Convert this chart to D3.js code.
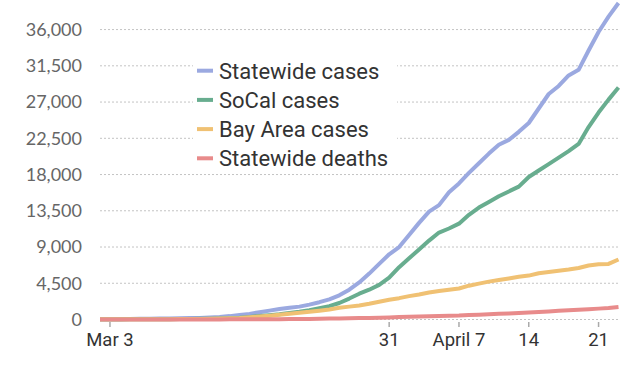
<!DOCTYPE html>
<meta charset="utf-8">
<script src="https://d3js.org/d3.v7.min.js"></script>
<style>
  body { margin: 0; background: #fff; }
</style>
<div id="chart"></div>
<script>
  // daily values, Mar 2 .. Apr 23 2020 (one per day)
  const startDay = new Date(2020, 2, 2);
  const statewide = [50, 55, 60, 70, 80, 100, 115, 135, 160, 180, 200, 250, 320, 420, 550, 700, 900, 1100, 1300, 1450,
    1600, 1850, 2150, 2500, 3000, 3700, 4600, 5700, 6900, 8100, 9000, 10500, 12000, 13400, 14200, 15800, 16900, 18200,
    19400, 20600, 21700, 22300, 23300, 24400, 26200, 28000, 29000, 30300, 31000, 33400, 35700, 37600, 39300];
  const socal = [10, 12, 14, 18, 22, 28, 34, 42, 52, 64, 80, 100, 130, 170, 230, 320, 430, 540, 650, 800,
    950, 1150, 1400, 1650, 2050, 2600, 3200, 3700, 4300, 5200, 6500, 7600, 8700, 9800, 10800, 11300, 11900, 13000,
    13900, 14600, 15300, 15900, 16500, 17700, 18500, 19300, 20100, 20900, 21800, 23900, 25700, 27300, 28800];
  const bayArea = [20, 22, 25, 28, 32, 36, 40, 45, 52, 60, 70, 85, 110, 150, 200, 280, 370, 470, 600, 720,
    830, 950, 1100, 1250, 1450, 1600, 1750, 1950, 2200, 2450, 2650, 2900, 3100, 3350, 3550, 3700, 3850, 4200,
    4450, 4700, 4900, 5100, 5300, 5450, 5750, 5900, 6050, 6200, 6400, 6700, 6850, 6900, 7450];
  const deaths = [1, 2, 3, 4, 4, 5, 5, 5, 6, 6, 7, 11, 13, 16, 19, 22, 27, 32, 40, 50,
    60, 70, 90, 110, 130, 160, 180, 190, 220, 260, 310, 340, 380, 400, 430, 460, 490, 560,
    600, 650, 700, 750, 800, 870, 930, 1000, 1080, 1150, 1220, 1280, 1350, 1420, 1560];

  const seriesNames = ["Statewide cases", "SoCal cases", "Bay Area cases", "Statewide deaths"];
  const seriesColors = ["#9ba9e0", "#68ad8f", "#f0c173", "#e88b8b"];
  const yTicks = [0, 4500, 9000, 13500, 18000, 22500, 27000, 31500, 36000];
  const xTickDates = [new Date(2020, 2, 3), new Date(2020, 2, 31), new Date(2020, 3, 7), new Date(2020, 3, 14), new Date(2020, 3, 21)];
  const xTickLabels = ["Mar 3", "31", "April 7", "14", "21"];

  const width = 640, height = 384;
  const dates = statewide.map((d, i) => d3.timeDay.offset(startDay, i));
  const series = [statewide, socal, bayArea, deaths];

  const svg = d3.select("#chart").append("svg")
    .attr("width", width)
    .attr("height", height);

  const x = d3.scaleTime()
    .domain([dates[0], dates[dates.length - 1]])
    .range([100, 618.5]);

  const y = d3.scaleLinear()
    .domain([0, d3.max(statewide)])
    .range([319.5, 3]);

  // dotted gridlines
  svg.append("g")
    .selectAll("line")
    .data(yTicks)
    .join("line")
    .attr("x1", 100)
    .attr("x2", 618)
    .attr("y1", d => y(d))
    .attr("y2", d => y(d))
    .attr("stroke", "#c4c4c4")
    .attr("stroke-width", 1)
    .attr("stroke-dasharray", "2,2");

  svg.append("g")
    .selectAll("text")
    .data(yTicks)
    .join("text")
    .attr("x", 82)
    .attr("y", d => y(d))
    .attr("dy", "0.35em")
    .attr("text-anchor", "end")
    .style("font-family", "Lato, sans-serif")
    .style("font-size", "18px")
    .attr("fill", "#666")
    .text(d => d3.format(",")(d));

  // x ticks
  const xg = svg.append("g");
  xg.selectAll("line")
    .data(xTickDates)
    .join("line")
    .attr("x1", d => x(d))
    .attr("x2", d => x(d))
    .attr("y1", 322)
    .attr("y2", 327)
    .attr("stroke", "#aaa")
    .attr("stroke-width", 1.5);
  xg.selectAll("text")
    .data(xTickDates)
    .join("text")
    .attr("x", d => x(d))
    .attr("y", 346)
    .attr("text-anchor", "middle")
    .style("font-family", "Roboto, sans-serif")
    .style("font-size", "18.5px")
    .attr("fill", "#333")
    .text((d, i) => xTickLabels[i]);

  // legend box hides the gridlines behind it
  svg.append("rect")
    .attr("x", 193)
    .attr("y", 52)
    .attr("width", 204)
    .attr("height", 118)
    .attr("fill", "#fff");

  const line = d3.line()
    .x((d, i) => x(dates[i]))
    .y(d => y(d));

  svg.append("g")
    .selectAll("path")
    .data(series)
    .join("path")
    .attr("d", line)
    .attr("fill", "none")
    .attr("stroke", (d, i) => seriesColors[i])
    .attr("stroke-width", 4)
    .attr("stroke-linejoin", "round");

  const legend = svg.append("g")
    .selectAll("g")
    .data(seriesNames)
    .join("g")
    .attr("transform", (d, i) => `translate(197, ${70.7 + i * 29.2})`);
  legend.append("rect")
    .attr("x", 0)
    .attr("y", -2)
    .attr("width", 16)
    .attr("height", 4)
    .attr("fill", (d, i) => seriesColors[i]);
  legend.append("text")
    .attr("x", 22)
    .attr("y", 8)
    .style("font-family", "Roboto, sans-serif")
    .style("font-size", "22px")
    .attr("fill", "#333")
    .text(d => d);
</script>
